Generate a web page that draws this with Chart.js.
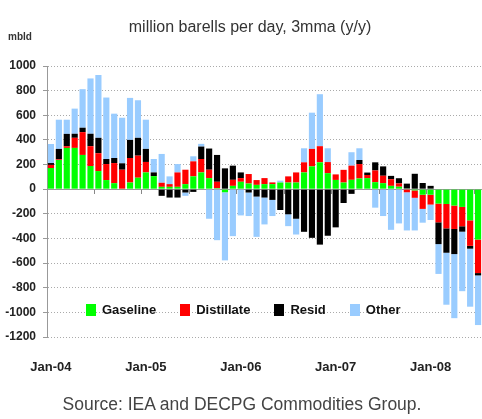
<!DOCTYPE html>
<html>
<head>
<meta charset="utf-8">
<script src="https://cdn.jsdelivr.net/npm/chart.js@4.4.0/dist/chart.umd.min.js"></script>
<style>
  html, body { margin: 0; padding: 0; background: #fff; }
  #wrap { position: relative; width: 482px; height: 419px; overflow: hidden; font-family: "Liberation Sans", Arial, sans-serif; }
  #c { position: absolute; left: 0; top: 0; }
  .title { position: absolute; left: 0; width: 500px; top: 17px; text-align: center; font-size: 16px; line-height: 20px; color: #333; }
  .unit { position: absolute; left: 8px; top: 31px; font-size: 10px; font-weight: bold; color: #333; }
  .source { position: absolute; left: 0; width: 484px; top: 394px; text-align: center; font-size: 17.5px; line-height: 20px; color: #444; }
  #legend { position: absolute; left: 86px; top: 302px; display: flex; align-items: center; }
  .li { display: flex; align-items: center; margin-right: 24px; font-size: 13px; font-weight: bold; color: #111; }
  .sw { width: 10px; height: 12px; margin-right: 6px; }
</style>
</head>
<body>
<div id="wrap">
  <canvas id="c" width="482" height="419"></canvas>
  <div class="title">million barells per day, 3mma (y/y)</div>
  <div class="unit">mbld</div>
  <div id="legend"></div>
  <div class="source">Source: IEA and DECPG Commodities Group.</div>
</div>
<script>
const categories = [
  'Jan-04','Feb-04','Mar-04','Apr-04','May-04','Jun-04','Jul-04','Aug-04','Sep-04','Oct-04','Nov-04','Dec-04',
  'Jan-05','Feb-05','Mar-05','Apr-05','May-05','Jun-05','Jul-05','Aug-05','Sep-05','Oct-05','Nov-05','Dec-05',
  'Jan-06','Feb-06','Mar-06','Apr-06','May-06','Jun-06','Jul-06','Aug-06','Sep-06','Oct-06','Nov-06','Dec-06',
  'Jan-07','Feb-07','Mar-07','Apr-07','May-07','Jun-07','Jul-07','Aug-07','Sep-07','Oct-07','Nov-07','Dec-07',
  'Jan-08','Feb-08','Mar-08','Apr-08','May-08','Jun-08','Jul-08'
];
const seriesNames = ['Gaseline', 'Distillate', 'Resid', 'Other'];
const seriesColors = ['#00ff00', '#ff0000', '#000000', '#99ccff'];

const gasoline = [172,237,335,335,278,188,147,74,49,-5,54,93,
  136,106,19,19,19,41,104,136,90,8,-25,27,
  60,46,35,41,41,54,54,54,136,185,218,130,
  75,54,76,87,90,57,49,27,20,5,-10,-45,
  -45,-117,-120,-133,-144,-253,-409];
const distillate = [25,5,14,82,185,161,145,130,163,158,199,179,
  85,0,33,22,117,117,122,109,68,52,0,49,
  30,77,39,49,14,0,50,82,82,142,131,90,
  45,103,115,117,25,95,60,54,27,-25,-60,-115,
  -80,-152,-198,-190,-157,-207,-272];
const resid = [15,85,100,33,36,101,125,41,41,52,147,145,
  106,30,-54,-68,-68,-27,-22,101,172,218,169,115,
  46,-27,-60,-68,-87,-169,-204,-240,-346,-395,-450,-378,
  -310,-112,-38,33,20,66,76,27,42,40,125,50,
  27,-177,-198,-204,-44,-23,-19];
const other = [155,237,115,204,313,449,510,499,360,370,341,305,
  237,109,234,63,68,-27,41,22,-240,-414,-553,-381,
  -213,-191,-327,-218,-131,15,-96,-128,114,294,422,112,
  0,0,109,95,0,-150,-218,-330,-278,-310,-265,-112,
  -125,-242,-422,-520,-483,-471,-403];

const yMin = -1200, yMax = 1000, yStep = 200;
const seriesData = [gasoline, distillate, resid, other];

const legend = document.getElementById('legend');
seriesNames.forEach((n, i) => {
  const li = document.createElement('div');
  li.className = 'li';
  const sw = document.createElement('div');
  sw.className = 'sw';
  sw.style.background = seriesColors[i];
  const t = document.createElement('span');
  t.textContent = n;
  li.appendChild(sw); li.appendChild(t);
  legend.appendChild(li);
});

const tickFont = { family: '"Liberation Sans", Arial, sans-serif', size: 12, weight: 'bold' };

new Chart(document.getElementById('c'), {
  type: 'bar',
  data: {
    labels: categories,
    datasets: seriesNames.map((n, i) => ({
      label: n,
      data: seriesData[i],
      backgroundColor: seriesColors[i],
      borderWidth: 0,
      barPercentage: 0.78,
      categoryPercentage: 1.0
    }))
  },
  options: {
    responsive: false,
    animation: false,
    layout: { padding: { top: 66, left: 0, right: 0, bottom: 0 } },
    plugins: { legend: { display: false }, tooltip: { enabled: false } },
    scales: {
      x: {
        stacked: true,
        offset: true,
        grid: { display: false, drawTicks: false },
        border: { display: false },
        ticks: {
          autoSkip: false, maxRotation: 0, minRotation: 0, padding: 23,
          color: '#222',
          font: { family: '"Liberation Sans", Arial, sans-serif', size: 13, weight: 'bold' },
          callback: function(v, i) { const l = categories[i]; return l.startsWith('Jan') ? l : ''; }
        },
        afterFit: function(s) { s.height = 82; s.paddingLeft = 0; s.paddingRight = 0; }
      },
      x2: {
        type: 'category',
        labels: categories,
        position: { y: 0 },
        offset: true,
        grid: {
          display: true, offset: true, drawOnChartArea: false, drawTicks: true, tickLength: 4,
          color: (ctx) => (ctx.index % 6 === 0 ? '#888' : 'rgba(0,0,0,0)'),
          tickColor: (ctx) => (ctx.index % 6 === 0 ? '#888' : 'rgba(0,0,0,0)')
        },
        border: { display: true, color: '#999', width: 1 },
        ticks: { display: false, autoSkip: false },
        afterFit: function(s) { s.paddingLeft = 0; s.paddingRight = 0; }
      },
      y: {
        stacked: true,
        min: yMin, max: yMax,
        ticks: { stepSize: yStep, color: '#222', font: tickFont, padding: 7, callback: (v) => String(v) },
        grid: { color: '#aaa', tickColor: '#999', tickLength: 4, tickBorderDash: [] },
        border: { display: true, color: '#999', width: 1, dash: [1, 2] },
        afterFit: function(s) { s.width = 47; }
      }
    }
  }
});
</script>
</body>
</html>
